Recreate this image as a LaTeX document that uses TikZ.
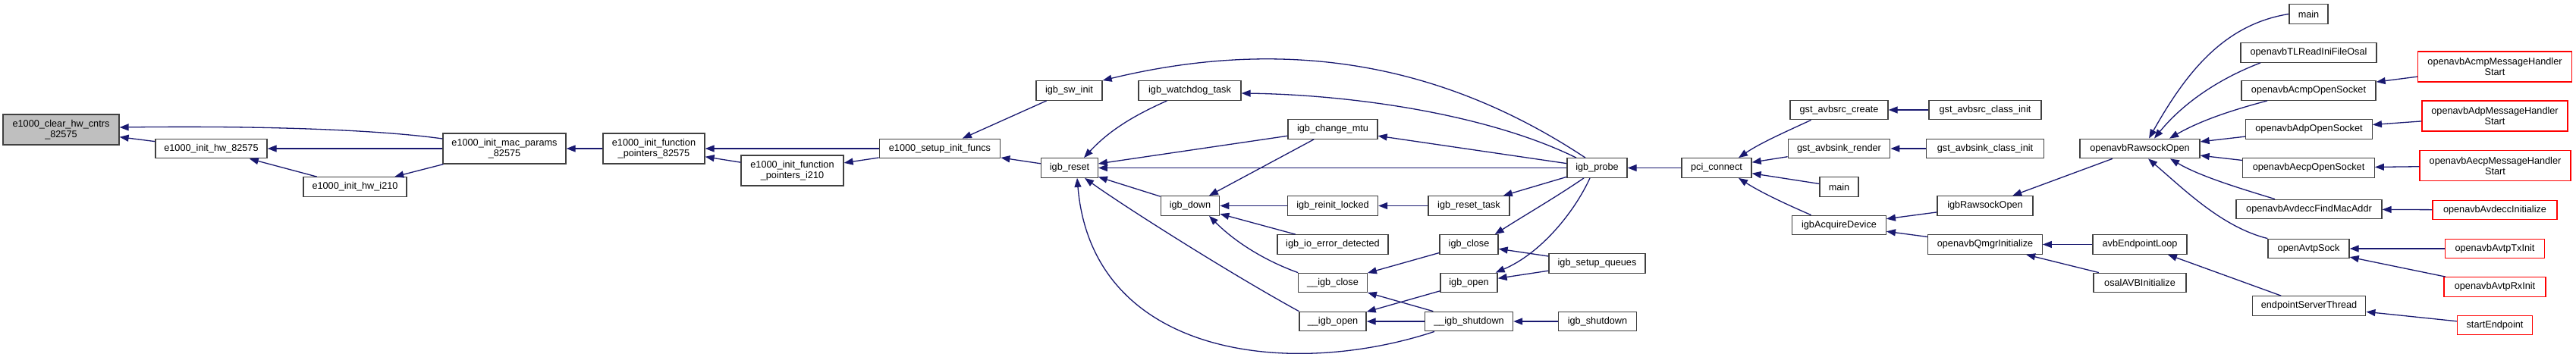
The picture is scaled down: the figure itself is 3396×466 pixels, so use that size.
\documentclass[tikz,border=0pt]{standalone}
\usepackage{fontspec}
\setmainfont{Liberation Sans}
\usetikzlibrary{arrows.meta}

\definecolor{edgeblue}{HTML}{191970}
\definecolor{rootgray}{HTML}{BFBFBF}
\definecolor{boxline}{HTML}{404040}

\tikzstyle{fnbox}=[rectangle, draw=boxline, line width=1.3pt, fill=white, inner sep=0pt, minimum height=25.5pt, align=center, font=\fontsize{12.7}{14}\selectfont]

\begin{document}
\begin{tikzpicture}[
	x=1pt, y=-1pt,
	rootfn/.style={fnbox, fill=rootgray},
	cutfn/.style={fnbox, draw=red},
	twoline/.style={minimum height=40pt},
	call/.style={edgeblue, line width=1.3pt, -{Triangle[length=12pt,width=9pt]}}
	]
	
	\useasboundingbox (0,0) rectangle (3396,466);
	
	% e1000 part
	\node[rootfn, twoline, minimum width=153pt] (clr) at (80.5,171) {e1000\_clear\_hw\_cntrs\\\_82575};
	\node[fnbox, minimum width=147pt] (hwa) at (278.5,196) {e1000\_init\_hw\_82575};
	\node[fnbox, minimum width=136pt] (hwb) at (468,246.5) {e1000\_init\_hw\_i210};
	\node[fnbox, twoline, minimum width=162pt] (macpar) at (665,196) {e1000\_init\_mac\_params\\\_82575};
	\node[fnbox, twoline, minimum width=134pt] (fpa) at (862,196) {e1000\_init\_function\\\_pointers\_82575};
	\node[fnbox, twoline, minimum width=135pt] (fpb) at (1044.5,225) {e1000\_init\_function\\\_pointers\_i210};
	\node[fnbox, minimum width=159.5pt] (setup) at (1239,196) {e1000\_setup\_init\_funcs};
	
	% igb driver
	\node[fnbox, minimum width=87pt] (swinit) at (1409.5,119.5) {igb\_sw\_init};
	\node[fnbox, minimum width=135pt] (wdog) at (1568.5,119.5) {igb\_watchdog\_task};
	\node[fnbox, minimum width=74.5pt] (reset) at (1410,221.5) {igb\_reset};
	\node[fnbox, minimum width=77.5pt] (down) at (1569,271.5) {igb\_down};
	\node[fnbox, minimum width=118pt] (mtu) at (1757,170.5) {igb\_change\_mtu};
	\node[fnbox, minimum width=119pt] (reinit) at (1757,271.5) {igb\_reinit\_locked};
	\node[fnbox, minimum width=146pt] (ioerr) at (1757,322.5) {igb\_io\_error\_detected};
	\node[fnbox, minimum width=90.5pt] (uclose) at (1757,373) {\_\_igb\_close};
	\node[fnbox, minimum width=88pt] (uopen) at (1757,424) {\_\_igb\_open};
	\node[fnbox, minimum width=107pt] (rtask) at (1936.5,271.5) {igb\_reset\_task};
	\node[fnbox, minimum width=77pt] (close) at (1936.5,322.5) {igb\_close};
	\node[fnbox, minimum width=75pt] (open) at (1936.5,373) {igb\_open};
	\node[fnbox, minimum width=116pt] (ushut) at (1936.5,424) {\_\_igb\_shutdown};
	\node[fnbox, minimum width=79pt] (probe) at (2105.5,221.5) {igb\_probe};
	\node[fnbox, minimum width=127pt] (queues) at (2105.5,347.5) {igb\_setup\_queues};
	\node[fnbox, minimum width=103pt] (shut) at (2106,424) {igb\_shutdown};
	\node[fnbox, minimum width=92pt] (pci) at (2263,221.5) {pci\_connect};
	
	% callers of pci_connect
	\node[fnbox, minimum width=129pt] (srccr) at (2424.5,145) {gst\_avbsrc\_create};
	\node[fnbox, minimum width=134.5pt] (sinkr) at (2424.5,196) {gst\_avbsink\_render};
	\node[fnbox, minimum width=51pt] (mainA) at (2424.5,246.5) {main};
	\node[fnbox, minimum width=123.5pt] (acq) at (2424.5,297) {igbAcquireDevice};
	\node[fnbox, minimum width=148pt] (srccl) at (2617,145) {gst\_avbsrc\_class\_init};
	\node[fnbox, minimum width=154.5pt] (sinkcl) at (2617,196) {gst\_avbsink\_class\_init};
	\node[fnbox, minimum width=126pt] (igbraw) at (2617,271.5) {igbRawsockOpen};
	\node[fnbox, minimum width=150.5pt] (qmgr) at (2617,322.5) {openavbQmgrInitialize};
	\node[fnbox, minimum width=158pt] (raw) at (2821,196) {openavbRawsockOpen};
	\node[fnbox, minimum width=124pt] (eploop) at (2821,322.5) {avbEndpointLoop};
	\node[fnbox, minimum width=122pt] (osal) at (2821,373) {osalAVBInitialize};
	\node[fnbox, minimum width=51pt] (mainB) at (3043.5,18.5) {main};
	\node[fnbox, minimum width=179pt] (tlread) at (3043.5,69.5) {openavbTLReadIniFileOsal};
	\node[fnbox, minimum width=177pt] (acmp) at (3043.5,119.5) {openavbAcmpOpenSocket};
	\node[fnbox, minimum width=166.5pt] (adp) at (3044,170.5) {openavbAdpOpenSocket};
	\node[fnbox, minimum width=173.5pt] (aecp) at (3043.5,221.5) {openavbAecpOpenSocket};
	\node[fnbox, minimum width=192pt] (findmac) at (3044,276) {openavbAvdeccFindMacAddr};
	\node[fnbox, minimum width=107pt] (avtp) at (3043.5,328) {openAvtpSock};
	\node[fnbox, minimum width=149.5pt] (epthread) at (3044,403.5) {endpointServerThread};
	\node[cutfn, twoline, minimum width=203pt] (acmph) at (3289,88) {openavbAcmpMessageHandler\\Start};
	\node[cutfn, twoline, minimum width=192pt] (adph) at (3289,153) {openavbAdpMessageHandler\\Start};
	\node[cutfn, twoline, minimum width=199pt] (aecph) at (3289.5,218.5) {openavbAecpMessageHandler\\Start};
	\node[cutfn, minimum width=164pt] (avdinit) at (3289,277) {openavbAvdeccInitialize};
	\node[cutfn, minimum width=131pt] (txinit) at (3289,328) {openavbAvtpTxInit};
	\node[cutfn, minimum width=134pt] (rxinit) at (3289,378.5) {openavbAvtpRxInit};
	\node[cutfn, minimum width=99pt] (starte) at (3289,429) {startEndpoint};
	
	% straight calls, caller/callee
	\foreach \a/\b in {hwa/clr, macpar/hwa, hwb/hwa, macpar/hwb, fpa/macpar, setup/fpa, fpb/fpa, setup/fpb,
		swinit/setup, reset/setup, mtu/reset, probe/reset, down/reset, mtu/down, reinit/down, ioerr/down,
		probe/mtu, rtask/reinit, probe/rtask, close/uclose, ushut/uclose, open/uopen, ushut/uopen,
		queues/close, queues/open, shut/ushut, pci/probe, sinkr/pci, mainA/pci, srccl/srccr, sinkcl/sinkr,
		igbraw/acq, qmgr/acq, raw/igbraw, eploop/qmgr, osal/qmgr, epthread/eploop, adp/raw, aecp/raw,
		acmph/acmp, adph/adp, aecph/aecp, avdinit/findmac, txinit/avtp, rxinit/avtp, starte/epthread} {
		\draw[call] (\a) -- (\b);
	}
	
	% curved calls
	\draw[call] ([yshift=13pt]macpar.west) .. controls +(-100,-14) and +(150,-2) .. ([yshift=3pt]clr.east);
	\draw[call] ([xshift=-15.5pt]probe.north) .. controls +(-190,-126) and +(240,-58) .. (swinit.north east);
	\draw[call] ([xshift=-27.5pt]probe.north) .. controls +(-118,-58) and +(144,2) .. ([yshift=-3.5pt]wdog.east);
	\draw[call] ([xshift=-30pt]wdog.south) .. controls +(-38,17) and +(36,-39) .. ([xshift=19pt]reset.north);
	\draw[call] (uopen.north west) .. controls +(-93,-51) and +(50,36) .. ([xshift=20pt]reset.south);
	\draw[call] ([xshift=-45.5pt]ushut.south) .. controls +(-191,63) and +(20,236) .. ([xshift=10pt]reset.south);
	\draw[call] (uclose.north west) .. controls +(-41.6,-15) and +(36,36) .. ([xshift=25pt]down.south);
	\draw[call] ([xshift=-17.5pt]probe.south) .. controls +(-38,26) and +(39,-25) .. ([xshift=-5pt]close.north east);
	\draw[call] ([xshift=-9.5pt]probe.south) .. controls +(-21,46) and +(59,-25) .. ([xshift=-3pt]open.north east);
	\draw[call] ([xshift=-37pt]srccr.south) .. controls +(-37,17) and +(28,-19) .. ([xshift=29pt]pci.north);
	\draw[call] ([xshift=-37pt]acq.north) .. controls +(-37,-16) and +(28,18) .. ([xshift=29pt]pci.south);
	\draw[call] (mainB.west) .. controls +(-88,14) and +(47,-83) .. ([xshift=12pt]raw.north);
	\draw[call] ([xshift=-63.5pt]tlread.south) .. controls +(-60,23) and +(35,-43) .. ([xshift=19pt]raw.north);
	\draw[call] ([xshift=-54.5pt]acmp.south) .. controls +(-49,13) and +(40,-23) .. ([xshift=39pt]raw.north);
	\draw[call] ([xshift=-45pt]findmac.north) .. controls +(-49,-15) and +(39,23) .. ([xshift=40pt]raw.south);
	\draw[call] (avtp.north west) .. controls +(-60,-15) and +(48,41) .. ([xshift=11pt]raw.south);
	
\end{tikzpicture}
\end{document}
